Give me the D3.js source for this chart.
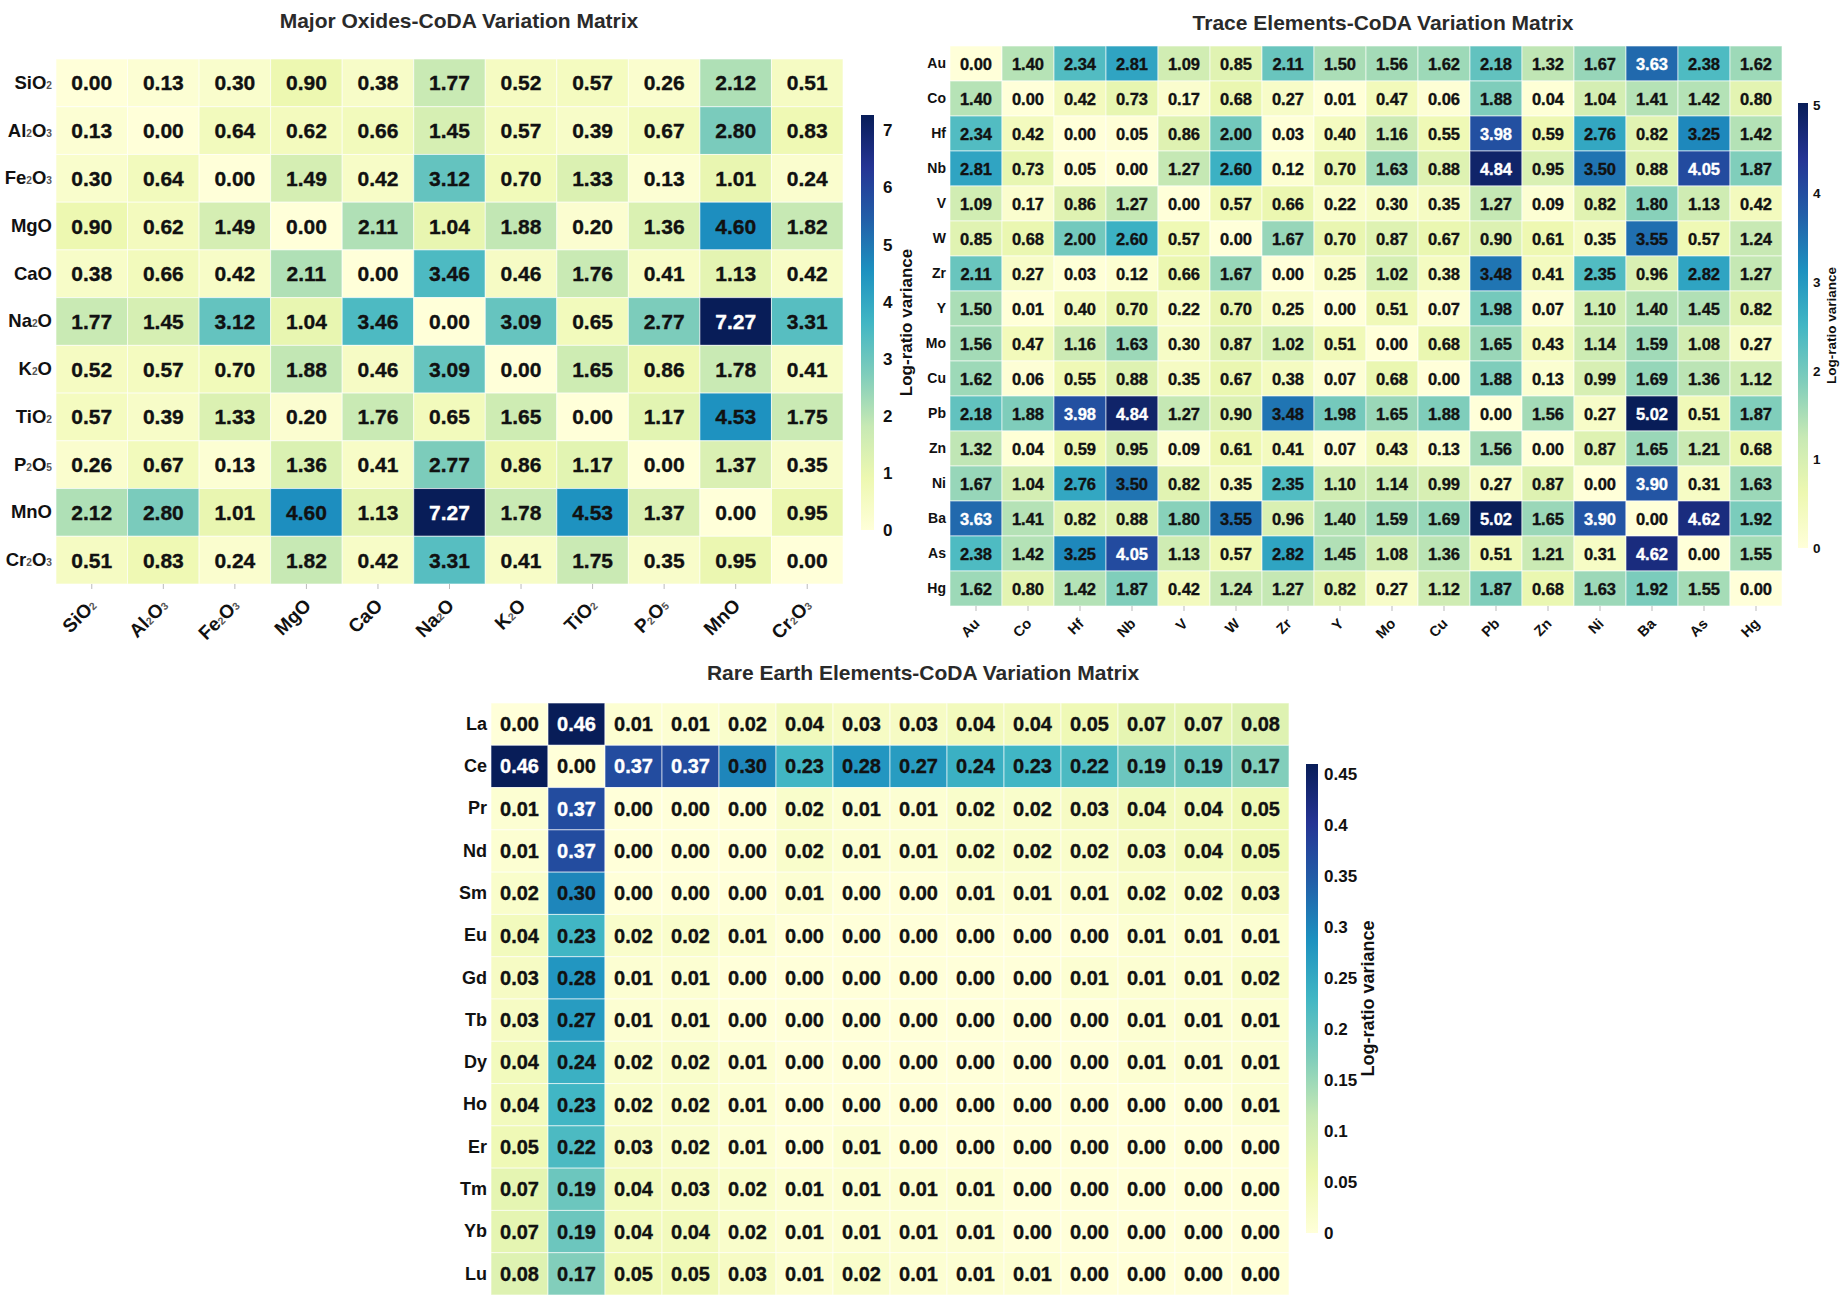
<!DOCTYPE html>
<html>
<head>
<meta charset="utf-8">
<script src="https://cdn.jsdelivr.net/npm/d3@7"></script>
<style>
  body { margin: 0; background: #fff; }
  svg text { font-family: "Liberation Sans", Arial, sans-serif; font-weight: bold; }
</style>
</head>
<body>
<svg id="chart" width="1844" height="1307"></svg>
<script>
// ---- data ----
const majorLabels = ["SiO2", "Al2O3", "Fe2O3", "MgO", "CaO", "Na2O", "K2O", "TiO2", "P2O5", "MnO", "Cr2O3"];
const majorValues = [
  [0.00, 0.13, 0.30, 0.90, 0.38, 1.77, 0.52, 0.57, 0.26, 2.12, 0.51],
  [0.13, 0.00, 0.64, 0.62, 0.66, 1.45, 0.57, 0.39, 0.67, 2.80, 0.83],
  [0.30, 0.64, 0.00, 1.49, 0.42, 3.12, 0.70, 1.33, 0.13, 1.01, 0.24],
  [0.90, 0.62, 1.49, 0.00, 2.11, 1.04, 1.88, 0.20, 1.36, 4.60, 1.82],
  [0.38, 0.66, 0.42, 2.11, 0.00, 3.46, 0.46, 1.76, 0.41, 1.13, 0.42],
  [1.77, 1.45, 3.12, 1.04, 3.46, 0.00, 3.09, 0.65, 2.77, 7.27, 3.31],
  [0.52, 0.57, 0.70, 1.88, 0.46, 3.09, 0.00, 1.65, 0.86, 1.78, 0.41],
  [0.57, 0.39, 1.33, 0.20, 1.76, 0.65, 1.65, 0.00, 1.17, 4.53, 1.75],
  [0.26, 0.67, 0.13, 1.36, 0.41, 2.77, 0.86, 1.17, 0.00, 1.37, 0.35],
  [2.12, 2.80, 1.01, 4.60, 1.13, 7.27, 1.78, 4.53, 1.37, 0.00, 0.95],
  [0.51, 0.83, 0.24, 1.82, 0.42, 3.31, 0.41, 1.75, 0.35, 0.95, 0.00]
];
const majorTicks = [0, 1, 2, 3, 4, 5, 6, 7];

const traceLabels = ["Au", "Co", "Hf", "Nb", "V", "W", "Zr", "Y", "Mo", "Cu", "Pb", "Zn", "Ni", "Ba", "As", "Hg"];
const traceValues = [
  [0.00, 1.40, 2.34, 2.81, 1.09, 0.85, 2.11, 1.50, 1.56, 1.62, 2.18, 1.32, 1.67, 3.63, 2.38, 1.62],
  [1.40, 0.00, 0.42, 0.73, 0.17, 0.68, 0.27, 0.01, 0.47, 0.06, 1.88, 0.04, 1.04, 1.41, 1.42, 0.80],
  [2.34, 0.42, 0.00, 0.05, 0.86, 2.00, 0.03, 0.40, 1.16, 0.55, 3.98, 0.59, 2.76, 0.82, 3.25, 1.42],
  [2.81, 0.73, 0.05, 0.00, 1.27, 2.60, 0.12, 0.70, 1.63, 0.88, 4.84, 0.95, 3.50, 0.88, 4.05, 1.87],
  [1.09, 0.17, 0.86, 1.27, 0.00, 0.57, 0.66, 0.22, 0.30, 0.35, 1.27, 0.09, 0.82, 1.80, 1.13, 0.42],
  [0.85, 0.68, 2.00, 2.60, 0.57, 0.00, 1.67, 0.70, 0.87, 0.67, 0.90, 0.61, 0.35, 3.55, 0.57, 1.24],
  [2.11, 0.27, 0.03, 0.12, 0.66, 1.67, 0.00, 0.25, 1.02, 0.38, 3.48, 0.41, 2.35, 0.96, 2.82, 1.27],
  [1.50, 0.01, 0.40, 0.70, 0.22, 0.70, 0.25, 0.00, 0.51, 0.07, 1.98, 0.07, 1.10, 1.40, 1.45, 0.82],
  [1.56, 0.47, 1.16, 1.63, 0.30, 0.87, 1.02, 0.51, 0.00, 0.68, 1.65, 0.43, 1.14, 1.59, 1.08, 0.27],
  [1.62, 0.06, 0.55, 0.88, 0.35, 0.67, 0.38, 0.07, 0.68, 0.00, 1.88, 0.13, 0.99, 1.69, 1.36, 1.12],
  [2.18, 1.88, 3.98, 4.84, 1.27, 0.90, 3.48, 1.98, 1.65, 1.88, 0.00, 1.56, 0.27, 5.02, 0.51, 1.87],
  [1.32, 0.04, 0.59, 0.95, 0.09, 0.61, 0.41, 0.07, 0.43, 0.13, 1.56, 0.00, 0.87, 1.65, 1.21, 0.68],
  [1.67, 1.04, 2.76, 3.50, 0.82, 0.35, 2.35, 1.10, 1.14, 0.99, 0.27, 0.87, 0.00, 3.90, 0.31, 1.63],
  [3.63, 1.41, 0.82, 0.88, 1.80, 3.55, 0.96, 1.40, 1.59, 1.69, 5.02, 1.65, 3.90, 0.00, 4.62, 1.92],
  [2.38, 1.42, 3.25, 4.05, 1.13, 0.57, 2.82, 1.45, 1.08, 1.36, 0.51, 1.21, 0.31, 4.62, 0.00, 1.55],
  [1.62, 0.80, 1.42, 1.87, 0.42, 1.24, 1.27, 0.82, 0.27, 1.12, 1.87, 0.68, 1.63, 1.92, 1.55, 0.00]
];
const traceTicks = [0, 1, 2, 3, 4, 5];

const reeLabels = ["La", "Ce", "Pr", "Nd", "Sm", "Eu", "Gd", "Tb", "Dy", "Ho", "Er", "Tm", "Yb", "Lu"];
const reeValues = [
  [0.00, 0.46, 0.01, 0.01, 0.02, 0.04, 0.03, 0.03, 0.04, 0.04, 0.05, 0.07, 0.07, 0.08],
  [0.46, 0.00, 0.37, 0.37, 0.30, 0.23, 0.28, 0.27, 0.24, 0.23, 0.22, 0.19, 0.19, 0.17],
  [0.01, 0.37, 0.00, 0.00, 0.00, 0.02, 0.01, 0.01, 0.02, 0.02, 0.03, 0.04, 0.04, 0.05],
  [0.01, 0.37, 0.00, 0.00, 0.00, 0.02, 0.01, 0.01, 0.02, 0.02, 0.02, 0.03, 0.04, 0.05],
  [0.02, 0.30, 0.00, 0.00, 0.00, 0.01, 0.00, 0.00, 0.01, 0.01, 0.01, 0.02, 0.02, 0.03],
  [0.04, 0.23, 0.02, 0.02, 0.01, 0.00, 0.00, 0.00, 0.00, 0.00, 0.00, 0.01, 0.01, 0.01],
  [0.03, 0.28, 0.01, 0.01, 0.00, 0.00, 0.00, 0.00, 0.00, 0.00, 0.01, 0.01, 0.01, 0.02],
  [0.03, 0.27, 0.01, 0.01, 0.00, 0.00, 0.00, 0.00, 0.00, 0.00, 0.00, 0.01, 0.01, 0.01],
  [0.04, 0.24, 0.02, 0.02, 0.01, 0.00, 0.00, 0.00, 0.00, 0.00, 0.00, 0.01, 0.01, 0.01],
  [0.04, 0.23, 0.02, 0.02, 0.01, 0.00, 0.00, 0.00, 0.00, 0.00, 0.00, 0.00, 0.00, 0.01],
  [0.05, 0.22, 0.03, 0.02, 0.01, 0.00, 0.01, 0.00, 0.00, 0.00, 0.00, 0.00, 0.00, 0.00],
  [0.07, 0.19, 0.04, 0.03, 0.02, 0.01, 0.01, 0.01, 0.01, 0.00, 0.00, 0.00, 0.00, 0.00],
  [0.07, 0.19, 0.04, 0.04, 0.02, 0.01, 0.01, 0.01, 0.01, 0.00, 0.00, 0.00, 0.00, 0.00],
  [0.08, 0.17, 0.05, 0.05, 0.03, 0.01, 0.02, 0.01, 0.01, 0.01, 0.00, 0.00, 0.00, 0.00]
];
const reeTicks = [0, 0.05, 0.1, 0.15, 0.2, 0.25, 0.3, 0.35, 0.4, 0.45];

// matplotlib YlGnBu anchors
const ylgnbu = ["#ffffd9", "#edf8b1", "#c7e9b4", "#7fcdbb", "#41b6c4", "#1d91c0", "#225ea8", "#253494", "#081d58"];

const svg = d3.select("#chart");

// writes "Al2O3" as Al + small 2 + O + small 3
function writeLabel(sel, subSize) {
  sel.each(function (d) {
    const t = d3.select(this);
    t.text(null);
    (d.match(/[A-Za-z]+|\d+/g) || []).forEach(part => {
      if (/^\d+$/.test(part)) {
        t.append("tspan").attr("font-size", subSize).attr("fill", "#555").text(part);
      } else {
        t.append("tspan").text(part);
      }
    });
  });
}

function drawHeatmap(cfg) {
  const g = svg.append("g");
  const vmax = d3.max(cfg.values.flat());

  const x = d3.scaleBand().domain(cfg.labels).range([cfg.x0, cfg.x1]);
  const y = d3.scaleBand().domain(cfg.labels).range([cfg.y0, cfg.y1]);
  const color = d3.scaleLinear()
    .domain(ylgnbu.map((c, i) => i / (ylgnbu.length - 1) * vmax))
    .range(ylgnbu)
    .clamp(true);

  const cells = cfg.values.flatMap((row, i) =>
    row.map((v, j) => ({ r: cfg.labels[i], c: cfg.labels[j], v })));

  g.selectAll("rect.cell").data(cells).join("rect")
    .attr("class", "cell")
    .attr("x", d => x(d.c))
    .attr("y", d => y(d.r))
    .attr("width", x.bandwidth())
    .attr("height", y.bandwidth())
    .attr("fill", d => color(d.v))
    .attr("stroke", "#fff")
    .attr("stroke-opacity", 0.6)
    .attr("stroke-width", 1);

  g.selectAll("text.val").data(cells).join("text")
    .attr("class", "val")
    .attr("x", d => x(d.c) + x.bandwidth() / 2)
    .attr("y", d => y(d.r) + y.bandwidth() / 2)
    .attr("text-anchor", "middle")
    .attr("dominant-baseline", "central")
    .attr("font-size", cfg.cellFont)
    .attr("fill", d => d.v / vmax > 0.715 ? "#fff" : "#111")
    .attr("stroke", d => d.v / vmax > 0.715 ? "#fff" : "#111")
    .attr("stroke-width", 0.35)
    .text(d => d.v.toFixed(2));

  // row labels
  const yAxis = g.append("g")
    .attr("transform", `translate(${cfg.x0},0)`)
    .call(d3.axisLeft(y).tickSize(0).tickPadding(4));
  yAxis.select(".domain").remove();
  yAxis.selectAll("text")
    .attr("font-size", cfg.rowFont)
    .attr("fill", "#111")
    .call(writeLabel, cfg.rowFont * 0.55);

  // column labels
  if (cfg.colFont) {
    const xAxis = g.append("g")
      .attr("transform", `translate(0,${cfg.y1})`)
      .call(d3.axisBottom(x).tickSize(5).tickPadding(8));
    xAxis.select(".domain").remove();
    xAxis.selectAll("line").attr("stroke", "#bbb");
    xAxis.selectAll("text")
      .attr("font-size", cfg.colFont)
      .attr("fill", "#111")
      .attr("text-anchor", "end")
      .attr("dy", "0.35em")
      .attr("transform", `translate(${cfg.colShift},${cfg.colDrop}) rotate(-45)`)
      .attr("y", 0)
      .call(writeLabel, cfg.colFont * 0.55);
  }

  // title
  svg.append("text")
    .attr("x", cfg.titleX)
    .attr("y", cfg.titleY)
    .attr("text-anchor", "middle")
    .attr("font-size", 21)
    .attr("fill", "#2a2a2a")
    .text(cfg.title);

  // colour bar
  const b = cfg.bar;
  const gradId = "grad" + cfg.id;
  const grad = svg.append("defs").append("linearGradient")
    .attr("id", gradId).attr("x1", 0).attr("y1", 1).attr("x2", 0).attr("y2", 0);
  ylgnbu.forEach((c, i) => grad.append("stop")
    .attr("offset", i / (ylgnbu.length - 1)).attr("stop-color", c));

  const by = d3.scaleLinear().domain([0, vmax]).range([b.y1, b.y0]);
  svg.append("rect")
    .attr("x", b.x).attr("y", by(vmax))
    .attr("width", b.w).attr("height", by(0) - by(vmax))
    .attr("fill", `url(#${gradId})`);

  const barAxis = svg.append("g")
    .attr("transform", `translate(${b.x + b.w},0)`)
    .call(d3.axisRight(by).tickValues(cfg.ticks).tickSize(0).tickPadding(b.pad)
      .tickFormat(d3.format("~g")));
  barAxis.select(".domain").remove();
  barAxis.selectAll("text").attr("font-size", b.tickFont).attr("fill", "#111");

  svg.append("text")
    .attr("transform", `translate(${b.labelX},${(b.y0 + b.y1) / 2}) rotate(-90)`)
    .attr("text-anchor", "middle")
    .attr("dominant-baseline", "central")
    .attr("font-size", b.labelFont)
    .attr("fill", "#111")
    .text("Log-ratio variance");
}

drawHeatmap({
  id: "major", title: "Major Oxides-CoDA Variation Matrix",
  labels: majorLabels, values: majorValues, ticks: majorTicks,
  x0: 56, x1: 843, y0: 59, y1: 584,
  titleX: 459, titleY: 28,
  cellFont: 21, rowFont: 18.5, colFont: 19, colShift: 1, colDrop: 18,
  bar: { x: 861, w: 13, y0: 115, y1: 530, pad: 9, tickFont: 17, labelX: 906, labelFont: 17 }
});

drawHeatmap({
  id: "trace", title: "Trace Elements-CoDA Variation Matrix",
  labels: traceLabels, values: traceValues, ticks: traceTicks,
  x0: 950, x1: 1782, y0: 46, y1: 606,
  titleX: 1383, titleY: 30,
  cellFont: 16.5, rowFont: 14, colFont: 14.5, colShift: 1, colDrop: 15,
  bar: { x: 1798, w: 10, y0: 103, y1: 548, pad: 5, tickFont: 13.5, labelX: 1831, labelFont: 13.5 }
});

drawHeatmap({
  id: "ree", title: "Rare Earth Elements-CoDA Variation Matrix",
  labels: reeLabels, values: reeValues, ticks: reeTicks,
  x0: 491, x1: 1289, y0: 703, y1: 1295,
  titleX: 923, titleY: 680,
  cellFont: 20, rowFont: 18, colFont: 0,
  bar: { x: 1306, w: 12, y0: 764, y1: 1233, pad: 6, tickFont: 17, labelX: 1368, labelFont: 18 }
});
</script>
</body>
</html>
